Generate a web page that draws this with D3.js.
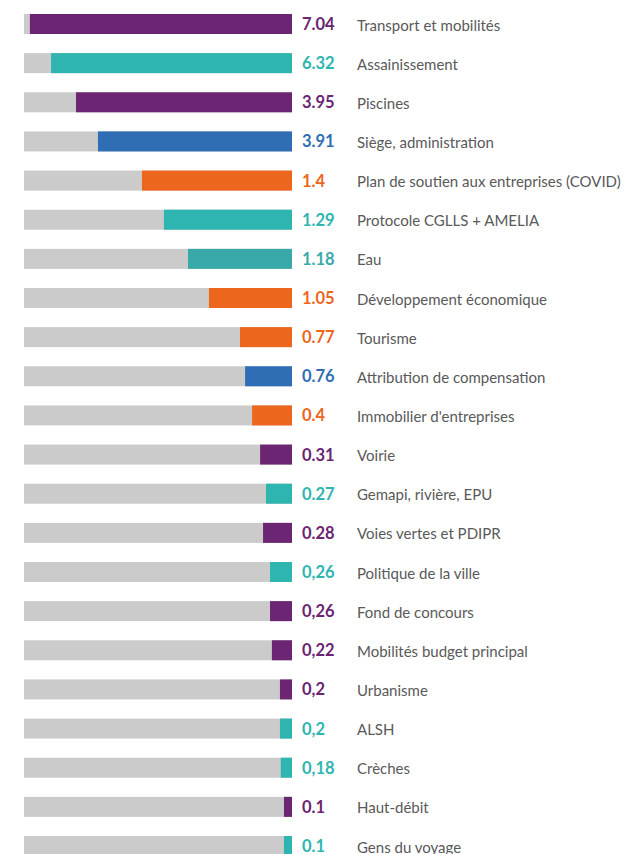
<!DOCTYPE html>
<html>
<head>
<meta charset="utf-8">
<script src="https://cdn.jsdelivr.net/npm/d3@7"></script>
<style>
  body { margin: 0; background: #fff; }
</style>
</head>
<body>
<script>
    // categories, top to bottom
    var categories = [
        "Transport et mobilités", "Assainissement", "Piscines", "Siège, administration",
        "Plan de soutien aux entreprises (COVID)", "Protocole CGLLS + AMELIA", "Eau",
        "Développement économique", "Tourisme", "Attribution de compensation",
        "Immobilier d'entreprises", "Voirie", "Gemapi, rivière, EPU", "Voies vertes et PDIPR",
        "Politique de la ville", "Fond de concours", "Mobilités budget principal",
        "Urbanisme", "ALSH", "Crèches", "Haut-débit", "Gens du voyage"
    ];

    var values = [7.04, 6.32, 3.95, 3.91, 1.4, 1.29, 1.18, 1.05, 0.77, 0.76, 0.4,
                  0.31, 0.27, 0.28, 0.26, 0.26, 0.22, 0.2, 0.2, 0.18, 0.1, 0.1];

    // value labels as printed (mixed decimal separators in the original)
    var valueLabels = ["7.04", "6.32", "3.95", "3.91", "1.4", "1.29", "1.18", "1.05",
                       "0.77", "0.76", "0.4", "0.31", "0.27", "0.28", "0,26", "0,26",
                       "0,22", "0,2", "0,2", "0,18", "0.1", "0.1"];

    var groups = ["mobilite", "environnement", "mobilite", "administration",
                  "economie", "environnement", "eau", "economie", "economie",
                  "administration", "economie", "mobilite", "environnement", "mobilite",
                  "environnement", "mobilite", "mobilite", "mobilite", "environnement",
                  "environnement", "mobilite", "environnement"];

    // the infographic uses an uneven length scale: value -> share of the track
    var scaleKnots = [0, 0.1, 0.2, 0.22, 0.26, 0.27, 0.28, 0.31, 0.4, 0.76, 0.77,
                      1.05, 1.18, 1.29, 1.4, 3.91, 3.95, 6.32, 7.04];
    var scaleShare = [0, 0.030, 0.045, 0.075, 0.082, 0.097, 0.108, 0.119, 0.149, 0.175,
                      0.194, 0.310, 0.388, 0.478, 0.560, 0.724, 0.806, 0.899, 0.978];

    var width = 626, height = 854;
    var trackLeft = 24, trackRight = 292, barHeight = 20;

    var svg = d3.select("body").append("svg")
                .attr("width", width)
                .attr("height", height);

    var y = d3.scalePoint()
              .domain(categories)
              .range([24, 846]);

    var share = d3.scaleLinear()
                  .domain(scaleKnots)
                  .range(scaleShare)
                  .clamp(true);

    var x = d3.scaleLinear()
              .domain([0, 1])
              .range([0, trackRight - trackLeft]);

    var color = d3.scaleOrdinal()
                  .domain(["mobilite", "environnement", "administration", "economie", "eau"])
                  .range(["#6b2572", "#2eb5b0", "#2f6db4", "#ec661e", "#38a9a8"]);

    var rows = svg.selectAll("g.row")
                  .data(categories)
                  .enter()
                  .append("g")
                  .attr("class", "row")
                  .attr("transform", function(d) { return "translate(0," + y(d) + ")"; });

    // grey track
    rows.append("rect")
        .attr("x", trackLeft)
        .attr("y", -barHeight / 2)
        .attr("width", trackRight - trackLeft)
        .attr("height", barHeight)
        .style("fill", "#cbcbcb");

    // coloured part, anchored on the right
    rows.append("rect")
        .attr("x", function(d, i) { return trackRight - x(share(values[i])); })
        .attr("y", -barHeight / 2)
        .attr("width", function(d, i) { return x(share(values[i])); })
        .attr("height", barHeight)
        .style("fill", function(d, i) { return color(groups[i]); });

    rows.append("text")
        .attr("x", 302)
        .attr("y", 6)
        .text(function(d, i) { return valueLabels[i]; })
        .style("font-family", "Lato, sans-serif")
        .style("font-weight", "bold")
        .style("font-size", "16.5px")
        .style("fill", function(d, i) { return color(groups[i]); });

    rows.append("text")
        .attr("x", 357)
        .attr("y", 6.5)
        .text(function(d) { return d; })
        .style("font-family", "Lato, sans-serif")
        .style("font-size", "15px")
        .style("fill", "#595959");
</script>
</body>
</html>
